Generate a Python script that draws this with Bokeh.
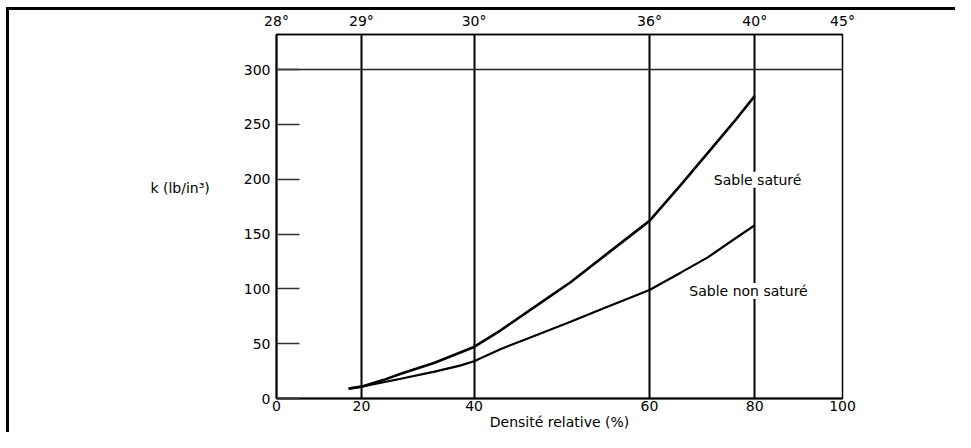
import numpy as np
from bokeh.plotting import figure
from bokeh.models import LinearAxis, FixedTicker, Range1d, Label, Grid
from bokeh.embed import file_html
from bokeh.resources import INLINE

# Relative density scale (hand-drawn, non-uniform spacing) and friction angles on top
density_ticks = [0, 20, 40, 60, 80, 100]
density_spacing = [0.0, 15.0, 34.9, 65.9, 84.5, 100.0]
phi_labels = ["28°", "29°", "30°", "36°", "40°", "45°"]
k_ticks = [0, 50, 100, 150, 200, 250, 300]

# Sable saturé
sat_density = [17, 20, 24, 27, 33, 40, 43, 47, 51, 55, 60, 66, 71.6, 76, 80]
sat_k = [9, 10.8, 17, 22.5, 32.6, 47, 62, 84, 106, 131, 162, 195, 227, 252, 276]

# Sable non saturé
unsat_density = [17, 20, 27, 33, 37.5, 40, 43, 47, 51, 55, 60, 66, 71, 76, 80]
unsat_k = [9, 10.8, 18, 24.5, 30, 34, 45, 57.5, 70, 83, 99, 115, 128.5, 145, 158]

FONT = "DejaVu Sans"
FS = "14px"


def to_pos(d):
    return np.interp(d, density_ticks, density_spacing)


pos_ticks = [round(float(v), 2) for v in density_spacing]

p = figure(width=955, height=432, output_backend="svg", toolbar_location=None,
           x_range=Range1d(0, 100), y_range=Range1d(0, 332),
           x_axis_location=None, y_axis_location=None,
           min_border_left=276, min_border_right=113,
           min_border_top=34, min_border_bottom=34)
# outer frame (top and left thick rules) drawn behind a transparent canvas border
p.styles = {"box-shadow": "inset 6px 7px 0 0 white, inset 9px 10px 0 0 black"}
p.border_fill_color = "white"
p.border_fill_alpha = 0
p.background_fill_color = "white"
p.grid.visible = False
p.outline_line_color = "black"
p.outline_line_width = 1.5

xt = FixedTicker(ticks=pos_ticks)

bottom = LinearAxis(ticker=xt,
                    major_label_overrides={t: str(d) for t, d in zip(pos_ticks, density_ticks)},
                    axis_label="Densité relative (%)")
top = LinearAxis(ticker=xt,
                 major_label_overrides={t: s for t, s in zip(pos_ticks, phi_labels)})
left = LinearAxis(ticker=FixedTicker(ticks=k_ticks),
                  axis_label="k (lb/in³)\n\n\n")

for ax in (bottom, top):
    ax.major_tick_line_color = None
    ax.major_tick_in = 0
    ax.major_tick_out = 0
    ax.minor_tick_line_color = None
    ax.minor_tick_in = 0
    ax.minor_tick_out = 0
    ax.major_label_text_font = FONT
    ax.major_label_text_font_size = FS
    ax.major_label_text_color = "black"
    ax.axis_line_color = "black"
bottom.axis_line_width = 2
top.axis_line_width = 1.5
bottom.major_label_standoff = 2
top.major_label_standoff = 6
bottom.axis_label_text_font = FONT
bottom.axis_label_text_font_size = FS
bottom.axis_label_text_font_style = "normal"
bottom.axis_label_text_color = "black"
bottom.axis_label_standoff = 0

left.axis_line_color = "black"
left.axis_line_width = 2
left.major_tick_in = 23
left.major_tick_out = 0
left.major_tick_line_color = "#333333"
left.major_tick_line_width = 1.5
left.minor_tick_line_color = None
left.minor_tick_out = 0
left.major_label_text_font = FONT
left.major_label_text_font_size = FS
left.major_label_text_color = "black"
left.major_label_standoff = 6
left.axis_label_orientation = "horizontal"
left.axis_label_text_font = FONT
left.axis_label_text_font_size = FS
left.axis_label_text_font_style = "normal"
left.axis_label_text_color = "black"
left.axis_label_standoff = 31

p.add_layout(bottom, "below")
p.add_layout(top, "above")
p.add_layout(left, "left")

vgrid = Grid(dimension=0, ticker=FixedTicker(ticks=pos_ticks[1:-1]),
             grid_line_color="black", grid_line_width=2)
hgrid = Grid(dimension=1, ticker=FixedTicker(ticks=[300]),
             grid_line_color="#222222", grid_line_width=1.5)
p.add_layout(vgrid)
p.add_layout(hgrid)

p.line(to_pos(sat_density), sat_k, line_color="black", line_width=2.6)
p.line(to_pos(unsat_density), unsat_k, line_color="black", line_width=2.2)

p.add_layout(Label(x=85.0, y=199.5, text="Sable saturé", text_align="center",
                   text_baseline="middle", text_font=FONT, text_font_size=FS,
                   text_color="black", background_fill_color="white"))
p.add_layout(Label(x=83.4, y=98, text="Sable non saturé", text_align="center",
                   text_baseline="middle", text_font=FONT, text_font_size=FS,
                   text_color="black", background_fill_color="white"))

open("out.html", "w").write(file_html(p, INLINE))
